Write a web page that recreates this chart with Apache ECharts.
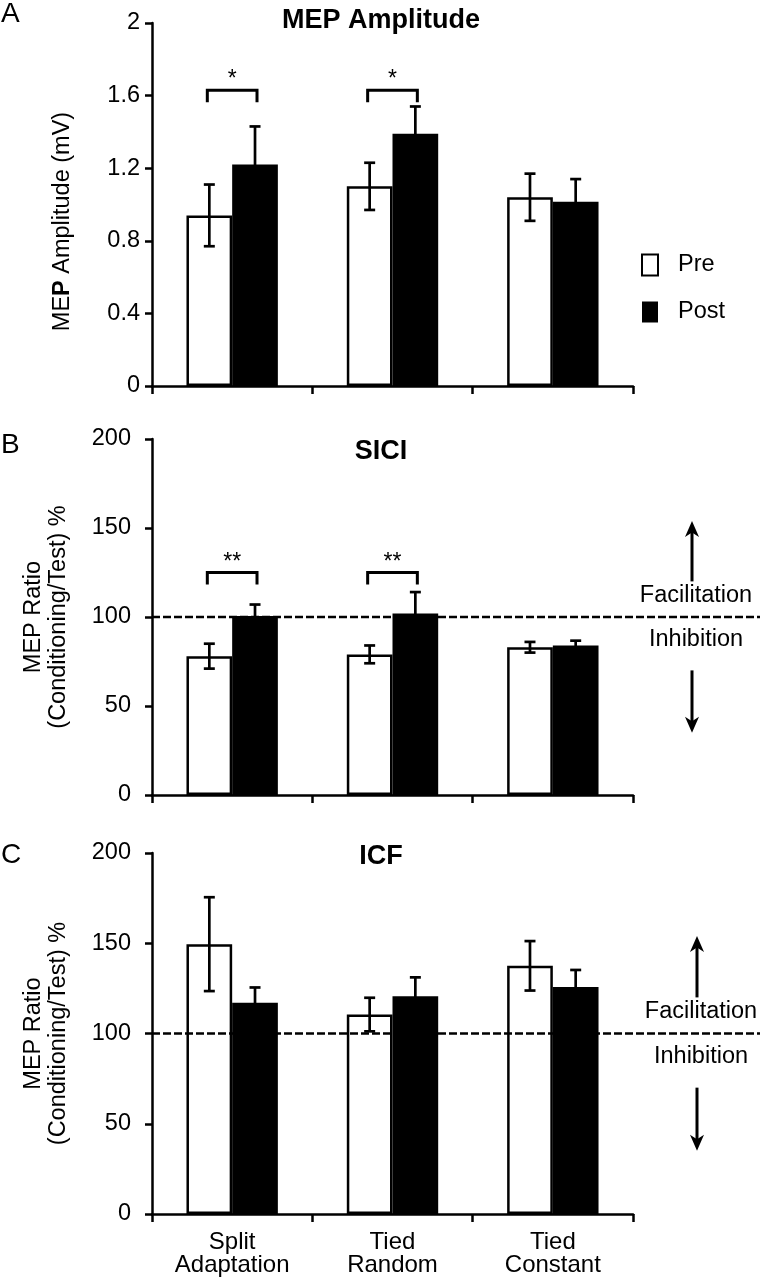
<!DOCTYPE html>
<html><head><meta charset="utf-8">
<script src="https://cdn.jsdelivr.net/npm/echarts@6/dist/echarts.min.js"></script>
<style>html,body{margin:0;padding:0;background:#fff}#c{width:760px;height:1280px}</style>
</head><body><div id="c"></div>
<script>
// ---------- data ----------
const categories = ['Split\nAdaptation', 'Tied\nRandom', 'Tied\nConstant'];
const seriesNames = ['Pre', 'Post'];
const panelTitles = ['MEP Amplitude', 'SICI', 'ICF'];
const panelLetters = ['A', 'B', 'C'];
const yTicksA = [0, 0.4, 0.8, 1.2, 1.6, 2];
const yTicksBC = [0, 50, 100, 150, 200];

const mepPre = [0.94, 1.10, 1.04];
const mepPreErr = [0.17, 0.13, 0.13];
const mepPost = [1.22, 1.39, 1.015];
const mepPostErr = [0.21, 0.15, 0.125];

const siciPre = [78, 79, 83];
const siciPreErr = [7, 5, 3];
const siciPost = [100.5, 102, 84];
const siciPostErr = [6.5, 12, 2.7];

const icfPre = [149.5, 110.5, 137.5];
const icfPreErr = [26, 9.3, 13.7];
const icfPost = [117, 120.7, 125.7];
const icfPostErr = [8.5, 10.4, 9.5];

const mepSig = ['*', '*', ''];
const mepSigLevel = [1.63, 1.63, null];
const siciSig = ['**', '**', ''];
const siciSigLevel = [125, 125, null];

const referenceLevel = 100;
const annotationLabels = ['Facilitation', 'Inhibition'];

// ---------- layout / style ----------
const FONT = '"Liberation Sans", Arial, Helvetica, sans-serif';
const BLACK = '#000';
const GAP = 0.43;
const grids = [
  {left: 152, top: 23, width: 481, height: 363},
  {left: 152, top: 439, width: 481, height: 356},
  {left: 152, top: 853, width: 481, height: 361}
];

const chart = echarts.init(document.getElementById('c'), null, {renderer: 'canvas'});

function barSeries(g, name, vals) {
  const pre = name === 'Pre';
  return {
    type: 'bar', name, xAxisIndex: g, yAxisIndex: g, data: vals,
    barGap: '0%', barCategoryGap: (GAP * 100) + '%',
    itemStyle: pre ? {color: '#fff', borderColor: BLACK, borderWidth: 2.5}
                   : {color: BLACK, borderColor: BLACK, borderWidth: 0},
    emphasis: {disabled: true}, silent: true, z: 2
  };
}

function errorSeries(g, vals, errs, side) {
  return {
    type: 'custom', xAxisIndex: g, yAxisIndex: g, z: 5, silent: true,
    data: vals.map((v, i) => [i, v, errs[i]]),
    renderItem(params, api) {
      const i = api.value(0), v = api.value(1), e = api.value(2);
      const band = api.size([1, 0])[0];
      const bw = band * (1 - GAP) / 2;
      const cx = api.coord([i, v])[0] + side * bw / 2;
      const yTop = api.coord([i, v + e])[1];
      const yBot = api.coord([i, v - e])[1];
      const cap = 5.5;
      const style = {stroke: BLACK, lineWidth: 2.7};
      return {type: 'group', children: [
        {type: 'line', shape: {x1: cx, y1: yTop, x2: cx, y2: yBot}, style},
        {type: 'line', shape: {x1: cx - cap, y1: yTop, x2: cx + cap, y2: yTop}, style},
        {type: 'line', shape: {x1: cx - cap, y1: yBot, x2: cx + cap, y2: yBot}, style}
      ]};
    }
  };
}

function bracketSeries(g, levels, labels) {
  const data = [];
  levels.forEach((l, i) => { if (l != null) data.push([i, l]); });
  return {
    type: 'custom', xAxisIndex: g, yAxisIndex: g, z: 6, silent: true,
    data,
    renderItem(params, api) {
      const i = api.value(0), l = api.value(1);
      const txt = labels[i];
      const band = api.size([1, 0])[0];
      const bw = band * (1 - GAP) / 2;
      const p = api.coord([i, l]);
      const x1 = p[0] - bw / 2 - 2, x2 = p[0] + bw / 2 + 2, y = p[1];
      const style = {stroke: BLACK, lineWidth: 3, fill: null};
      return {type: 'group', children: [
        {type: 'polyline', shape: {points: [[x1, y + 12], [x1, y], [x2, y], [x2, y + 12]]}, style},
        {type: 'text', x: p[0], y: y - 10, style: {text: txt, fontSize: 23, fontFamily: FONT, fill: BLACK, align: 'center', verticalAlign: 'middle'}}
      ]};
    }
  };
}

const axisLineStyle = {color: BLACK, width: 2.5};
const xAxes = grids.map((gr, g) => ({
  type: 'category', gridIndex: g, data: categories,
  axisLine: {show: true, lineStyle: axisLineStyle},
  axisTick: {show: true, length: 8, lineStyle: axisLineStyle},
  axisLabel: {show: g === 2, fontSize: 24, lineHeight: 23, color: BLACK, fontFamily: FONT, margin: 17},
  splitLine: {show: false}
}));

const yAxes = grids.map((gr, g) => {
  const ticks = g === 0 ? yTicksA : yTicksBC;
  const base = {
    type: 'value', gridIndex: g,
    min: ticks[0], max: ticks[ticks.length - 1], interval: ticks[1] - ticks[0],
    axisLine: {show: true, lineStyle: axisLineStyle},
    axisTick: {show: true, length: 7, lineStyle: axisLineStyle},
    splitLine: {show: false},
    axisLabel: {fontSize: 23.5, color: BLACK, fontFamily: FONT, margin: g === 0 ? 12 : 21},
    nameLocation: 'middle'
  };
  if (g === 0) {
    base.name = '{n|ME}{b|P}{n| Amplitude (mV)}';
    base.nameGap = 77;
    base.nameTextStyle = {fontSize: 23.5, color: BLACK, fontFamily: FONT, padding: [0, 34, 0, 0],
      rich: {n: {fontSize: 23.5, fontFamily: FONT, color: BLACK}, b: {fontSize: 23.5, fontFamily: FONT, color: BLACK, fontWeight: 'bold'}}};
  } else {
    base.name = 'MEP Ratio\n(Conditioning/Test) %';
    base.nameGap = 81;
    base.nameTextStyle = {fontSize: 23.5, lineHeight: 25, color: BLACK, fontFamily: FONT};
  }
  return base;
});

const titleTops = [7, 438, 843];
const letterTops = [0, 431, 841];
const titles = [];
panelTitles.forEach((t, g) => titles.push({
  text: t, left: 381, top: titleTops[g], textAlign: 'center', padding: 0,
  textStyle: {fontSize: 27, lineHeight: 27, fontWeight: 'bold', color: BLACK, fontFamily: FONT}
}));
panelLetters.forEach((t, g) => titles.push({
  text: t, left: 1, top: letterTops[g], padding: 0,
  textStyle: {fontSize: 28, lineHeight: 28, fontWeight: 'normal', color: BLACK, fontFamily: FONT}
}));

const series = [
  barSeries(0, 'Pre', mepPre), barSeries(0, 'Post', mepPost),
  errorSeries(0, mepPre, mepPreErr, -1), errorSeries(0, mepPost, mepPostErr, 1),
  bracketSeries(0, mepSigLevel, mepSig),
  barSeries(1, 'Pre', siciPre), barSeries(1, 'Post', siciPost),
  errorSeries(1, siciPre, siciPreErr, -1), errorSeries(1, siciPost, siciPostErr, 1),
  bracketSeries(1, siciSigLevel, siciSig),
  barSeries(2, 'Pre', icfPre), barSeries(2, 'Post', icfPost),
  errorSeries(2, icfPre, icfPreErr, -1), errorSeries(2, icfPost, icfPostErr, 1)
];

chart.setOption({
  animation: false,
  backgroundColor: '#fff',
  textStyle: {fontFamily: FONT},
  title: titles,
  legend: {
    data: seriesNames, orient: 'vertical', left: 641, top: 253, padding: 0,
    itemWidth: 16, itemHeight: 21, itemGap: 23, icon: 'rect', selectedMode: false,
    textStyle: {fontSize: 23.5, color: BLACK, fontFamily: FONT, padding: [0, 0, 0, 15]}
  },
  grid: grids.map(g => Object.assign({containLabel: false}, g)),
  xAxis: xAxes,
  yAxis: yAxes,
  series
});

// ---------- annotations (positioned through the y axes) ----------
const annot = {upTip: 154, upBase: 120, facil: 112, inhib: 87.5, downBase: 70, downTip: 35};
const annotX = [{arrow: 692, text: 696}, {arrow: 697, text: 701}];
const graphics = [];
function arrow(x, yFrom, yTo) {
  const dir = Math.sign(yTo - yFrom);
  const headLen = 16, headHalf = 7;
  graphics.push({type: 'line', z: 20, silent: true,
    shape: {x1: x, y1: yFrom, x2: x, y2: yTo - dir * headLen * 0.6},
    style: {stroke: BLACK, lineWidth: 3}});
  graphics.push({type: 'polygon', z: 20, silent: true,
    shape: {points: [[x, yTo], [x - headHalf, yTo - dir * headLen], [x, yTo - dir * headLen * 0.72], [x + headHalf, yTo - dir * headLen]]},
    style: {fill: BLACK}});
}
[1, 2].forEach((g, k) => {
  const py = v => chart.convertToPixel({yAxisIndex: g}, v);
  const yRef = py(referenceLevel);
  graphics.push({type: 'line', z: 15, silent: true,
    shape: {x1: grids[g].left, y1: yRef, x2: 760, y2: yRef},
    style: {stroke: BLACK, lineWidth: 2.3, lineDash: [8, 3]}});
  arrow(annotX[k].arrow, py(annot.upBase), py(annot.upTip));
  arrow(annotX[k].arrow, py(annot.downBase), py(annot.downTip));
  graphics.push({type: 'text', z: 20, silent: true, x: annotX[k].text, y: py(annot.facil),
    style: {text: annotationLabels[0], fontSize: 23.5, fontFamily: FONT, fill: BLACK, align: 'center', verticalAlign: 'middle'}});
  graphics.push({type: 'text', z: 20, silent: true, x: annotX[k].text, y: py(annot.inhib),
    style: {text: annotationLabels[1], fontSize: 23.5, fontFamily: FONT, fill: BLACK, align: 'center', verticalAlign: 'middle'}});
});
chart.setOption({graphic: graphics});
</script>
</body></html>
